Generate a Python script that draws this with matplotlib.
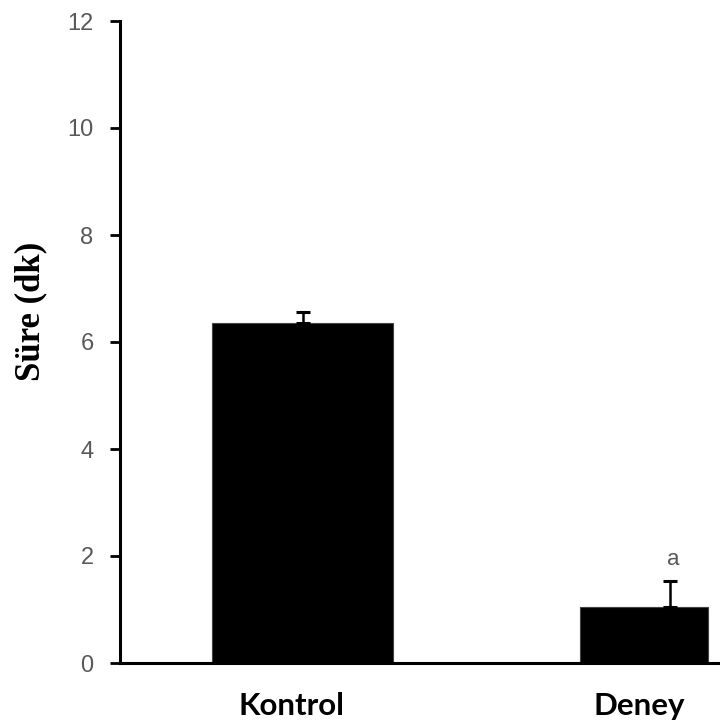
import matplotlib.pyplot as plt

groups = ['Kontrol', 'Deney']
means = [6.35, 1.05]
errors = [0.22, 0.48]
marks = ['', 'a']

# bar layout (x in units of group spacing)
centers = [0.0, 1.0]
lefts = [-0.246, 0.755]
widths = [0.4925, 0.348]
label_x = [-0.031, 0.916]

fig = plt.figure(figsize=(7.2, 7.27), dpi=100)
ax = fig.add_axes([120 / 720, 64 / 727, 600 / 720, 642 / 727])

ax.bar(lefts, means, width=widths, align='edge', color='black',
       edgecolor='#444444', linewidth=0.8, zorder=2)
ax.errorbar(centers, means, yerr=[[0, 0], errors], fmt='none',
            ecolor='black', elinewidth=1.8, capsize=5, capthick=2.2, zorder=3)
for x, m, e, t in zip(centers, means, errors, marks):
    if t:
        ax.text(x + 0.01, m + e + 0.2, t, ha='center', va='bottom',
                fontsize=16, color='#595959', family='Liberation Sans')

ax.set_xlim(-0.4966, 1.136)
ax.set_ylim(0, 12)
ax.set_yticks(range(0, 13, 2))
ax.set_xticks([])
for x, g in zip(label_x, groups):
    ax.text(x, -0.081, g, transform=ax.get_xaxis_transform(),
            ha='center', va='baseline', fontsize=22.5, fontweight='bold',
            family='Lato', color='black')

ax.tick_params(axis='y', direction='out', length=7, width=2,
               labelsize=17, labelcolor='#595959', pad=12)
for lbl in ax.get_yticklabels():
    lbl.set_family('Liberation Sans')

for s in ['top', 'right']:
    ax.spines[s].set_visible(False)
for s in ['left', 'bottom']:
    ax.spines[s].set_linewidth(2.2)

fig.text(31 / 720, (727 - 311) / 727, 'Süre (dk)', rotation=90,
         ha='center', va='center', fontsize=25, fontweight='bold',
         family='Liberation Serif')

fig.savefig('out.png', dpi=100)
